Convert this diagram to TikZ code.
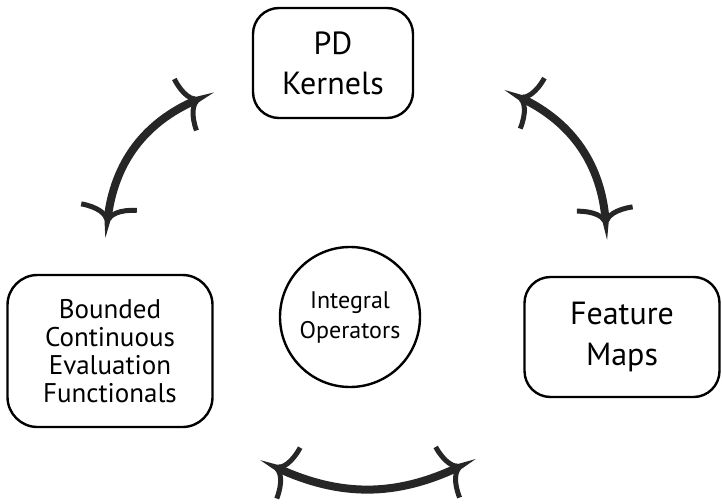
\documentclass[tikz,border=0pt]{standalone}
\usepackage{fontspec}
\setmainfont{PT Sans}
\usepackage{tikz}
\usetikzlibrary{arrows.meta}

% open, hand drawn looking arrow head
\pgfdeclarearrow{
  name=Gull,
  setup code={
    \pgfarrowssettipend{2pt}
    \pgfarrowssetlineend{-3pt}
    \pgfarrowssetvisualbackend{-15pt}
    \pgfarrowssetbackend{-15pt}
  },
  drawing code={
    \pgfsetlinewidth{5pt}
    \pgfsetbuttcap
    \pgfpathmoveto{\pgfpoint{-15pt}{28pt}}
    \pgfpathcurveto{\pgfpoint{-14pt}{12pt}}{\pgfpoint{-8pt}{0pt}}{\pgfpoint{1pt}{0pt}}
    \pgfpathcurveto{\pgfpoint{-8pt}{0pt}}{\pgfpoint{-14pt}{-12pt}}{\pgfpoint{-15pt}{-28pt}}
    \pgfusepathqstroke
  }
}

\tikzset{
  conceptbox/.style={draw, line width=2.4pt, rounded corners=26pt, align=center, inner sep=0pt},
  brush/.style={line width=8pt, draw=black!85, Gull-Gull}
}

\begin{document}
\begin{tikzpicture}[x=1pt,y=-1pt]
\useasboundingbox (0,0) rectangle (722,503);
% the four concepts
\node[conceptbox, minimum width=160pt, minimum height=110pt, font=\fontsize{32}{40}\selectfont] (kernels) at (333,63) {PD\\Kernels};
\node[conceptbox, minimum width=195pt, minimum height=120pt, font=\fontsize{32}{41}\selectfont] (features) at (622,337) {Feature\\Maps};
\node[conceptbox, minimum width=205pt, minimum height=152pt, rounded corners=30pt, font=\fontsize{27}{28}\selectfont] (functionals) at (110,351) {Bounded\\Continuous\\Evaluation\\Functionals};
\node[draw, line width=2.4pt, circle, minimum size=140pt, inner sep=0pt, align=center, font=\fontsize{24}{30}\selectfont] (operators) at (350,317) {Integral\\Operators};

% hand drawn arrows between them
\coordinate (a1) at (107,224);
\coordinate (a2) at (201,98);
\coordinate (b1) at (517,96);
\coordinate (b2) at (606,226);
\coordinate (c1) at (273,466);
\coordinate (c2) at (463,465);
\draw[brush] (a1) to[bend left=30] (a2);
\draw[brush] (b1) to[bend left=30] (b2);
\draw[brush] (c1) to[bend right=25] (c2);
\end{tikzpicture}
\end{document}
